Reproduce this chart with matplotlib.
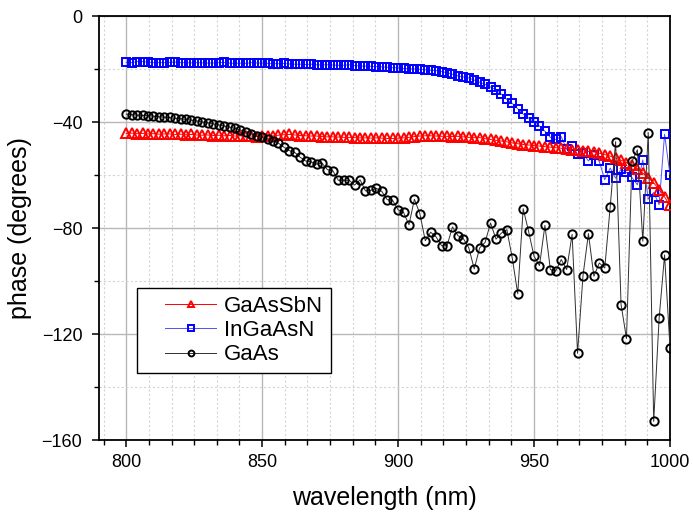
import numpy as np
import matplotlib
matplotlib.use("Agg")
import matplotlib.pyplot as plt
from matplotlib.ticker import MultipleLocator
from matplotlib.legend_handler import HandlerLine2D

plt.rcParams['font.family'] = ['Liberation Sans', 'DejaVu Sans']

wavelength = np.arange(800, 1001, 2)

gaassbn = [
    -44.3, -44.2, -44.4, -44.3, -44.5, -44.4, -44.6, -44.5, -44.5, -44.7,
    -44.6, -44.8, -44.7, -44.9, -45.0, -44.9, -45.1, -45.0, -45.2, -45.1,
    -45.3, -45.2, -45.4, -45.3, -45.5, -45.4, -45.3, -45.2, -45.0, -44.8,
    -44.7, -44.9, -45.1, -45.2, -45.3, -45.3, -45.5, -45.6, -45.6, -45.7,
    -45.8, -45.8, -45.9, -46.0, -46.0, -46.1, -46.0, -46.1, -46.2, -46.2,
    -46.1, -46.0, -45.8, -45.5, -45.3, -45.2, -45.2, -45.3, -45.4, -45.4,
    -45.5, -45.4, -45.6, -45.8, -45.9, -45.9, -46.3, -46.6, -46.9, -47.2,
    -47.5, -47.9, -48.2, -48.5, -48.7, -48.9, -49.1, -49.3, -49.5, -49.7,
    -49.9, -50.1, -50.4, -50.6, -50.9, -51.1, -51.3, -51.8, -52.3, -52.9,
    -53.6, -54.4, -55.3, -56.4, -57.6, -59.3, -61.0, -63.0, -65.5, -68.3,
    -71.5,
]

ingaasn = [
    -17.5, -17.6, -17.2, -17.2, -17.4, -17.6, -17.6, -17.6, -17.5, -17.4,
    -17.6, -17.6, -17.7, -17.6, -17.7, -17.8, -17.7, -17.6, -17.5, -17.8,
    -17.9, -17.8, -17.9, -17.6, -17.7, -17.8, -17.9, -18.0, -18.0, -17.9,
    -18.1, -18.2, -18.2, -18.3, -18.2, -18.4, -18.5, -18.4, -18.5, -18.6,
    -18.6, -18.4, -18.7, -18.9, -18.9, -19.0, -19.1, -19.2, -19.3, -19.5,
    -19.6, -19.8, -19.9, -20.0, -20.1, -20.3, -20.5, -20.6, -21.0, -21.4,
    -22.0, -22.6, -23.0, -23.4, -24.2, -25.0, -25.8, -26.8, -27.8, -29.5,
    -31.5, -33.0, -35.0, -37.0, -38.5, -40.0, -41.5, -43.5, -45.8, -46.6,
    -45.5, -50.3, -49.0, -52.2, -51.8, -54.7, -52.4, -54.9, -61.8, -57.4,
    -61.2, -57.8, -59.0, -60.9, -63.7, -54.3, -69.1, -66.6, -71.2, -44.6,
    -59.9,
]

gaas = [
    -37.0, -37.2, -37.4, -37.5, -37.6, -37.8, -38.0, -38.2, -38.3, -38.6,
    -38.8, -39.0, -39.3, -39.6, -40.0, -40.3, -40.7, -41.1, -41.5, -41.9,
    -42.4, -43.0, -43.8, -44.5, -45.2, -45.8, -46.4, -47.2, -48.0, -49.5,
    -50.8, -51.5, -53.3, -54.7, -55.0, -55.9, -55.5, -58.0, -58.4, -62.0,
    -62.0, -62.0, -63.8, -61.8, -66.0, -65.8, -65.0, -66.2, -69.3, -69.6,
    -73.1, -74.1, -78.8, -69.1, -74.6, -84.8, -81.6, -83.4, -86.7, -86.7,
    -79.6, -82.9, -84.0, -87.5, -95.4, -87.5, -85.4, -78.1, -84.2, -81.9,
    -80.6, -91.4, -104.8, -72.7, -81.3, -90.7, -94.2, -79.0, -95.7, -96.2,
    -91.9, -95.7, -82.4, -127.3, -98.0, -82.1, -98.2, -93.2, -95.1, -72.1,
    -47.4, -108.9, -121.7, -54.9, -50.5, -85.0, -44.0, -153.0, -114.1, -90.2,
    -125.2,
]

series_names = ["GaAsSbN", "InGaAsN", "GaAs"]

W, H = 693, 515
fig = plt.figure(figsize=(W / 100, H / 100), dpi=100)
ax = fig.add_axes([99 / W, 75 / H, 571 / W, 424 / H])

l1, = ax.plot(wavelength, gaassbn, color='#ff0000', lw=0.7, marker='^',
              ms=6.8, mfc='none', mec='#ff0000', mew=1.4, label=series_names[0], zorder=4)
l2, = ax.plot(wavelength, ingaasn, color='#5050ff', lw=0.7, marker='s',
              ms=5.3, mfc='none', mec='#0000ff', mew=1.4, label=series_names[1], zorder=3)
l3, = ax.plot(wavelength, gaas, color='#303030', lw=0.7, marker='o',
              ms=6.0, mfc='none', mec='#000000', mew=1.4, label=series_names[2], zorder=5)

ax.set_xlim(790, 1000)
ax.set_ylim(-160, 0)
ax.xaxis.set_major_locator(MultipleLocator(50))
ax.xaxis.set_minor_locator(MultipleLocator(50 / 6))
ax.yaxis.set_major_locator(MultipleLocator(40))
ax.yaxis.set_minor_locator(MultipleLocator(20))

ax.grid(which='major', color='#b8b8b8', lw=1.0, ls='-', zorder=0)
ax.grid(which='minor', color='#d4d4d4', lw=0.8, ls=(0, (2, 2)), zorder=0)
ax.set_axisbelow(True)

for s in ax.spines.values():
    s.set_linewidth(1.3)
ax.tick_params(which='major', direction='out', length=5, width=1.1, labelsize=13)
ax.tick_params(axis='x', which='major', pad=5)
ax.tick_params(axis='y', which='major', pad=7)
ax.tick_params(which='minor', direction='out', length=3.5, width=1.0)
ax.tick_params(top=False, right=False, which='both')

ax.set_xlabel('wavelength (nm)', fontsize=18, labelpad=11)
ax.set_ylabel('phase (degrees)', fontsize=18, labelpad=7)

fs = 16
hmap = {l: HandlerLine2D(xpad=0.92, marker_pad=0.3) for l in (l1, l2, l3)}
leg = ax.legend(handles=[l1, l2, l3], loc='upper left',
                bbox_to_anchor=((137 - 99) / 571, (440 - 288) / 424),
                borderaxespad=0, fontsize=fs, frameon=True, fancybox=False,
                edgecolor='black', framealpha=1, borderpad=0.35,
                handlelength=3.21, handletextpad=0.34, labelspacing=0.15,
                markerscale=0.7, handler_map=hmap)
leg.get_frame().set_linewidth(1.0)

fig.savefig('out.png', dpi=100)
